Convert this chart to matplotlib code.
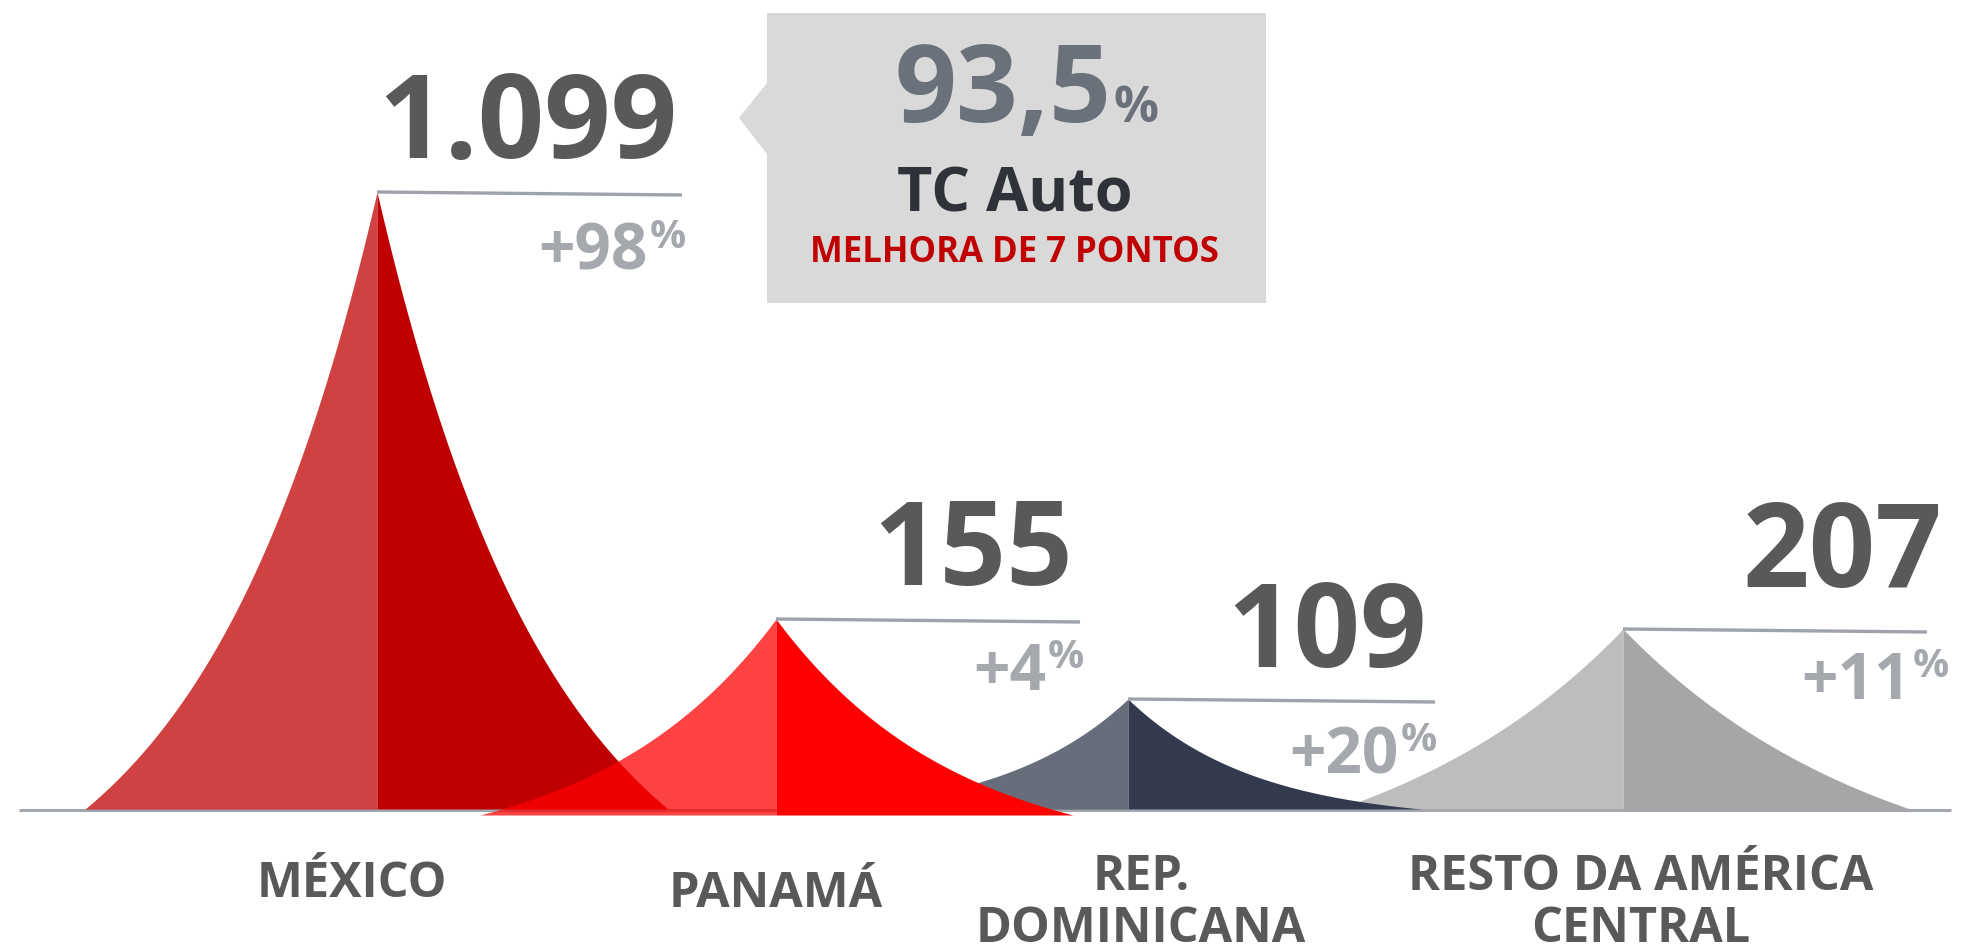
import numpy as np
import matplotlib
matplotlib.use("Agg")
import matplotlib.pyplot as plt
from matplotlib.patches import Polygon

plt.rcParams['font.family'] = ['Open Sans', 'DejaVu Sans']
plt.rcParams['font.weight'] = 'bold'

# data
categories = ['MÉXICO', 'PANAMÁ', 'REP.\nDOMINICANA', 'RESTO DA AMÉRICA\nCENTRAL']
values = [1099, 155, 109, 207]
growth = [98, 4, 20, 11]
peak_heights = [617, 196, 110, 180]   # drawn heights of the peaks (px), not to scale
tc_value = '93,5'
tc_label = 'TC Auto'
tc_note = 'MELHORA DE 7 PONTOS'

# layout (pixel coordinates, y downwards)
W, H = 1965, 951
peak_x = [377, 776, 1128, 1623]
half_left = [292, 296, 300, 285]
half_right = [291, 297, 293, 287]
base_y = [809, 815, 809, 809]
curve_c = [1.65, 1.65, 2.3, 1.1]      # exponential flare of the sides
colors = ['#C00000', '#FF0000', '#343A4E', '#A6A6A6']
draw_order = [0, 3, 2, 1]

line_end = [682, 1080, 1435, 1927]
value_right = [677, 1073, 1427, 1942]
value_base = [158, 585, 667, 587]
pct_right = [648, 1046, 1399, 1911]
pct_base = [270, 690, 773, 699]
label_x = [352, 776, 1141, 1641]
label_base = [[897], [907], [890, 942], [890, 942]]

dark = '#595959'
light = '#A5A9AE'
line_col = '#9EA2AA'


def fmt_thousands(v):
    return f'{v:,}'.replace(',', '.')


def side(d, c):
    # height fraction at relative distance d from the peak
    return (np.exp(-c * d) - np.exp(-c)) / (1 - np.exp(-c))


fig = plt.figure(figsize=(W / 100, H / 100), dpi=100)
ax = fig.add_axes([0, 0, 1, 1])
ax.set_xlim(0, W)
ax.set_ylim(H, 0)
ax.axis('off')

# baseline
ax.plot([19, 1951], [810, 810], color='#A3A7AE', lw=2.2, solid_capstyle='butt', zorder=1)

for z, i in enumerate(draw_order):
    xp, yb, hgt, c = peak_x[i], base_y[i], peak_heights[i], curve_c[i]
    # left half (lighter, translucent)
    xs = np.linspace(xp - half_left[i], xp, 300)
    d = (xp - xs) / half_left[i]
    ax.fill_between(xs, yb, yb - hgt * side(d, c), color=colors[i], alpha=0.74, lw=0, zorder=2 + z)
    # right half
    xs = np.linspace(xp, xp + half_right[i], 300)
    d = (xs - xp) / half_right[i]
    ax.fill_between(xs, yb, yb - hgt * side(d, c), color=colors[i], lw=0, zorder=2 + z)

for i in range(len(categories)):
    top = base_y[i] - peak_heights[i]
    ax.plot([peak_x[i], line_end[i]], [top, top + 3], color=line_col, lw=2.4,
            solid_capstyle='butt', zorder=10)
    ax.text(value_right[i], value_base[i], fmt_thousands(values[i]), ha='right', va='baseline',
            fontsize=84, color=dark, zorder=11)
    ax.text(pct_right[i], pct_base[i], f'+{growth[i]}', ha='right', va='baseline',
            fontsize=46, color=light, zorder=11)
    ax.text(pct_right[i] + 2, pct_base[i] - 22, '%', ha='left', va='baseline',
            fontsize=29, color=light, zorder=11)
    for line, yb in zip(categories[i].split('\n'), label_base[i]):
        ax.text(label_x[i], yb, line, ha='center', va='baseline', fontsize=35,
                color=dark, zorder=11)

# callout box
box = Polygon([(767, 13), (1266, 13), (1266, 303), (767, 303), (767, 154), (739, 118), (767, 83)],
              closed=True, facecolor='#D9D9D9', edgecolor='none', zorder=5)
ax.add_patch(box)
ax.text(1112, 122, tc_value, ha='right', va='baseline', fontsize=78, color='#6A717A', zorder=6)
ax.text(1114, 122, '%', ha='left', va='baseline', fontsize=36, color='#6A717A', zorder=6)
ax.text(1015, 211, tc_label, ha='center', va='baseline', fontsize=44, color='#2F3238', zorder=6)
ax.text(1014, 262, tc_note, ha='center', va='baseline', fontsize=25, color='#C00000', zorder=6)

fig.savefig('out.png', dpi=100, facecolor='white')
